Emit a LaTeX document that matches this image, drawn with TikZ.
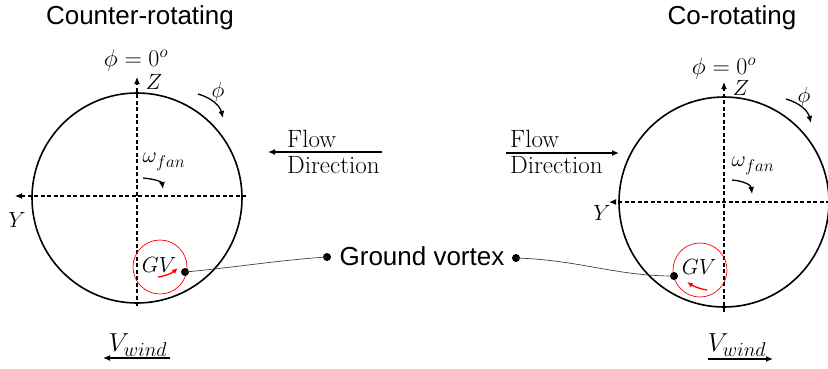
\RequirePackage{fix-cm}
\documentclass[tikz,border=0pt]{standalone}
\usepackage{fontspec}
\newfontfamily\arialfont{Liberation Sans}
\usetikzlibrary{arrows.meta}
\DeclareMathSizes{22}{22}{17}{13}
\DeclareMathSizes{24}{24}{17}{13}
\DeclareMathSizes{26}{26}{20}{15}
\tikzset{
  rim/.style={line width=1.6pt},
  axis/.style={line width=1.1pt, dash pattern=on 4pt off 2.5pt, -{Latex[length=7pt,width=6pt]}},
  rotarrow/.style={line width=1.3pt, -{Latex[length=7pt,width=6pt]}},
  redarrow/.style={line width=1.3pt, red, -{Latex[length=6pt,width=5pt]}},
  gvring/.style={red, line width=0.7pt},
  title/.style={font=\arialfont\fontsize{26}{30}\selectfont, inner sep=0pt},
  lab/.style={font=\fontsize{22}{26}\selectfont, inner sep=0pt},
  midlab/.style={font=\fontsize{24}{28}\selectfont, inner sep=0pt},
  flowlab/.style={font=\fontsize{25}{29}\selectfont, inner sep=0pt},
  biglab/.style={font=\fontsize{26}{30}\selectfont, inner sep=0pt},
  dot/.style={circle, fill=black, inner sep=0pt, minimum size=8pt},
  thinline/.style={line width=0.7pt, black!75},
  flowarrow/.style={line width=1.3pt, -{Latex[length=7pt,width=6pt]}}
}
\begin{document}
\begin{tikzpicture}[x=1pt,y=-1pt]
\useasboundingbox (0,0) rectangle (828,368);
\clip (0,0) rectangle (828,368);
% ---------- left (counter-rotating) ----------
\node[title] (tL) at (140,18) {Counter-rotating};
\draw[rim] (137,198) circle[radius=105];
\coordinate (lxs) at (246,196);
\coordinate (lxe) at (15,196);
\coordinate (lys) at (137,306);
\coordinate (lye) at (137,77);
\draw[axis] (lxs) -- (lxe);
\draw[axis] (lys) -- (lye);
\node[midlab] (phi0L) at (136,60) {$\phi = 0^o$};
\node[lab] (zL) at (154,82) {$Z$};
\node[lab] (phiL) at (218,92) {$\phi$};
\coordinate (pa1) at (198,94);
\coordinate (pa2) at (223,118);
\draw[rotarrow] (pa1) .. controls (212,98) and (220,106) .. (pa2);
\node[lab] (wL) at (164,162) {$\omega_{fan}$};
\coordinate (wa1) at (143,178);
\coordinate (wa2) at (163,189);
\draw[rotarrow] (wa1) .. controls (155,179) and (162,182) .. (wa2);
\node[lab] (yL) at (17,220) {$Y$};
\draw[gvring] (160,267) circle[radius=27];
\node[lab] (gvL) at (159,265) {$GV$};
\coordinate (ra1) at (158,277);
\coordinate (ra2) at (178,268);
\draw[redarrow] (ra1) .. controls (166,276) and (172,273) .. (ra2);
\node[dot] (dL) at (185,272) {};
\node[biglab] (vL) at (138,345) {$V_{wind}$};
\coordinate (va1) at (170,358);
\coordinate (va2) at (103,358);
\draw[flowarrow] (va1) -- (va2);
% ---------- flow directions ----------
\node[flowlab, anchor=base west] (flL1) at (287,147) {Flow};
\node[flowlab, anchor=base west] (flL2) at (287,173) {Direction};
\coordinate (fa1) at (382,152);
\coordinate (fa2) at (268,152);
\draw[flowarrow] (fa1) -- (fa2);
\node[flowlab, anchor=base west] (flR1) at (510,147) {Flow};
\node[flowlab, anchor=base west] (flR2) at (510,173) {Direction};
\coordinate (fb1) at (506,153);
\coordinate (fb2) at (619,153);
\draw[flowarrow] (fb1) -- (fb2);
% ---------- ground vortex ----------
\node[title] (gvt) at (422,256) {Ground vortex};
\node[dot] (gdL) at (327,257) {};
\node[dot] (gdR) at (516,258) {};
% ---------- right (co-rotating) ----------
\node[title] (tR) at (732,18) {Co-rotating};
\draw[rim] (724,202) circle[radius=105];
\coordinate (rxs) at (830,202);
\coordinate (rxe) at (609,202);
\coordinate (rys) at (724,312);
\coordinate (rye) at (724,82);
\draw[axis] (rxs) -- (rxe);
\draw[axis] (rys) -- (rye);
\node[midlab] (phi0R) at (724,68) {$\phi = 0^o$};
\node[lab] (zR) at (741,88) {$Z$};
\node[lab] (phiR) at (804,97) {$\phi$};
\coordinate (pb1) at (786,99);
\coordinate (pb2) at (811,123);
\draw[rotarrow] (pb1) .. controls (800,103) and (808,111) .. (pb2);
\node[lab] (wR) at (753,166) {$\omega_{fan}$};
\coordinate (wb1) at (732,180);
\coordinate (wb2) at (752,194);
\draw[rotarrow] (wb1) .. controls (744,181) and (751,185) .. (wb2);
\node[lab] (yR) at (602,213) {$Y$};
\draw[gvring] (700,270) circle[radius=27];
\node[lab] (gvR) at (699,267) {$GV$};
\coordinate (rb1) at (707,290);
\coordinate (rb2) at (687,282);
\draw[redarrow] (rb1) .. controls (700,289) and (693,286) .. (rb2);
\node[dot] (dR) at (674,276) {};
\node[biglab] (vR) at (737,345) {$V_{wind}$};
\coordinate (vb1) at (708,359);
\coordinate (vb2) at (773,359);
\draw[flowarrow] (vb1) -- (vb2);
% ---------- connectors ----------
\draw[thinline] (gdL.center) .. controls (280,260) and (230,268) .. (dL.center);
\draw[thinline] (gdR.center) .. controls (580,260) and (615,276) .. (dR.center);
\end{tikzpicture}
\end{document}
